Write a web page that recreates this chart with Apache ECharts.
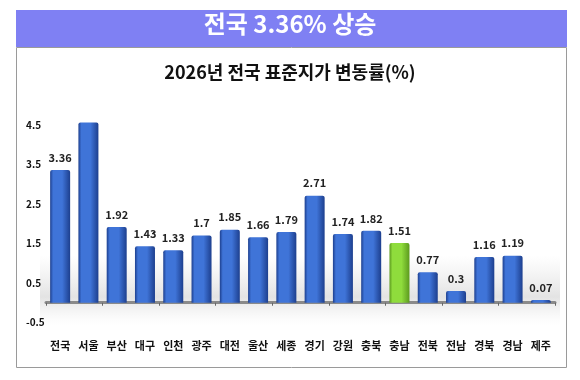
<!DOCTYPE html>
<html><head><meta charset="utf-8">
<script src="https://cdn.jsdelivr.net/npm/echarts@6/dist/echarts.min.js"></script>
<style>html,body{margin:0;padding:0;background:#fff}#c{width:580px;height:380px}</style>
</head><body><div id="c"></div>
<script>
const categories = ['전국','서울','부산','대구','인천','광주','대전','울산','세종','경기','강원','충북','충남','전북','전남','경북','경남','제주'];
const values = [3.36, 4.56, 1.92, 1.43, 1.33, 1.7, 1.85, 1.66, 1.79, 2.71, 1.74, 1.82, 1.51, 0.77, 0.3, 1.16, 1.19, 0.07];
const hiddenLabels = ['서울'];
const highlight = '충남';
const yTickLabels = ['-0.5','0.5','1.5','2.5','3.5','4.5'];
const bannerText = '전국 3.36% 상승';
const subtitle = '2026년 전국 표준지가 변동률(%)';

const font = '"Noto Sans CJK KR", "Noto Sans", sans-serif';
function grad(c1, c2) {
  return new echarts.graphic.LinearGradient(0, 0, 1, 0, [
    {offset: 0, color: c2}, {offset: 0.15, color: c1}, {offset: 0.6, color: c1}, {offset: 1, color: c2}
  ]);
}
const blue = grad('#3f74d8', '#1d3f8e');
const green = grad('#8fdc3c', '#5c9a1e');

const chart = echarts.init(document.getElementById('c'));
chart.setOption({
  animation: false,
  backgroundColor: '#fff',
  grid: {left: 46, right: 25, top: 121, bottom: 57.5, containLabel: false},
  graphic: [
    {type: 'rect', shape: {x: 16, y: 10, width: 551, height: 37}, style: {fill: '#7f80f3'}, z: 0},
    {type: 'rect', shape: {x: 16.5, y: 47.5, width: 550, height: 320}, style: {fill: 'none', stroke: '#9a9a9a', lineWidth: 1}, z: 0},
    {type: 'rect', shape: {x: 40, y: 255, width: 520, height: 70},
      style: {fill: new echarts.graphic.LinearGradient(0, 0, 0, 1, [
        {offset: 0, color: 'rgba(225,225,225,0)'}, {offset: 0.6, color: 'rgba(215,215,215,0.7)'}, {offset: 1, color: 'rgba(235,235,235,0)'}])}, z: -1},
    {type: 'text', left: 'center', top: 12, style: {text: bannerText, font: 'bold 24px ' + font, fill: '#fff'}},
    {type: 'text', left: 'center', top: 63, style: {text: subtitle, font: 'bold 18px ' + font, fill: '#111'}}
  ],
  xAxis: [
    {type: 'category', data: categories, axisLine: {onZero: true, lineStyle: {color: '#8a8a8a', width: 3}},
     axisTick: {show: true, length: 3, lineStyle: {color: '#666'}}, axisLabel: {show: false}},
    {type: 'category', data: categories, position: 'bottom', axisLine: {show: false, onZero: false},
     axisTick: {show: false}, axisLabel: {interval: 0, margin: 18, fontFamily: font, fontWeight: 'bold', fontSize: 11, color: '#111'}}
  ],
  yAxis: {
    type: 'value', min: -0.5, max: 4.6, interval: 0.5,
    splitLine: {show: false}, axisLine: {show: false}, axisTick: {show: false},
    axisLabel: {align: 'left', margin: 20, fontFamily: font, fontWeight: 'bold', fontSize: 10, color: '#111',
      formatter: v => { const s = (Math.round(v * 10) / 10).toFixed(1); return yTickLabels.includes(s) ? s : ''; },
      showMaxLabel: false}
  },
  series: [{
    type: 'bar', xAxisIndex: 0, barWidth: 20,
    data: values.map((v, i) => ({
      value: v,
      itemStyle: {color: categories[i] === highlight ? green : blue},
      label: {show: !hiddenLabels.includes(categories[i])}
    })),
    label: {show: true, position: 'top', distance: 7, fontFamily: font, fontWeight: 'bold', fontSize: 11, color: '#222'},
    itemStyle: {borderRadius: [2, 2, 0, 0]}
  }]
});
</script></body></html>
